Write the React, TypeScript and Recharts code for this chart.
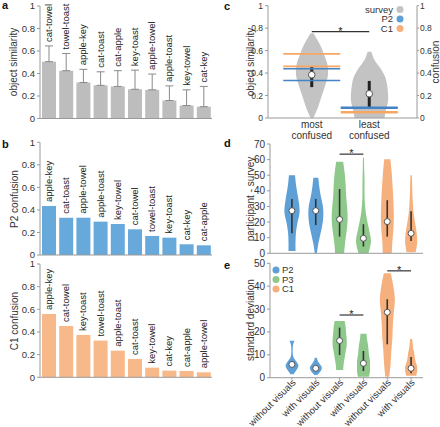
import React from 'react';
import { ComposedChart, Bar, Scatter, ErrorBar, XAxis, YAxis, ReferenceLine } from 'recharts';

// panel a: survey object similarity (mean, upper sd)
const simPairs = ['cat-towel', 'towel-toast', 'apple-key', 'cat-toast', 'cat-apple', 'key-toast', 'apple-towel', 'apple-toast', 'key-towel', 'cat-key'];
const simMean = [0.505, 0.425, 0.32, 0.295, 0.285, 0.26, 0.255, 0.16, 0.115, 0.105];
const simSd = [0.14, 0.153, 0.117, 0.12, 0.14, 0.17, 0.14, 0.13, 0.14, 0.18];

// panel b: confusion per pair
const p2Pairs = ['apple-key', 'cat-toast', 'apple-towel', 'apple-toast', 'key-towel', 'cat-towel', 'towel-toast', 'key-toast', 'cat-key', 'cat-apple'];
const p2Conf = [0.435, 0.331, 0.331, 0.296, 0.275, 0.228, 0.169, 0.154, 0.095, 0.086];
const c1Pairs = ['apple-key', 'cat-towel', 'key-toast', 'towel-toast', 'apple-toast', 'cat-toast', 'key-towel', 'cat-key', 'cat-apple', 'apple-towel'];
const c1Conf = [0.559, 0.453, 0.374, 0.324, 0.235, 0.162, 0.085, 0.059, 0.056, 0.044];

// panel c: survey violins + participant confusion lines
const cGroups = ['most confused', 'least confused'];
const cLo = [0, 0];
const cHi = [0.755, 0.59];
const cDensity = [
  [0.07, 0.32, 0.51, 0.7, 0.86, 0.84, 0.65, 0.41, 0.08],
  [0.81, 0.89, 1, 1, 0.95, 0.84, 0.59, 0.27, 0.1],
];
const cMedian = [0.385, 0.216];
const cQ1 = [0.275, 0.095];
const cQ3 = [0.46, 0.33];
const cP2 = [[0.438, 0.334], [0.088, 0.096]];
const cC1 = [[0.571, 0.46], [0.047, 0.055]];
const cSigLevel = 0.77;

// panels d/e: with vs without visuals
const visKeys = ['p2-without', 'p2-with', 'p3-without', 'p3-with', 'c1-without', 'c1-with'];
const visLabels = ['without visuals', 'with visuals', 'without visuals', 'with visuals', 'without visuals', 'with visuals'];
const visGroups = ['P2', 'P2', 'P3', 'P3', 'C1', 'C1'];

const dLo = [1.5, 0, 0, 0, 0, 0.6];
const dHi = [50, 48.4, 58.6, 61.2, 60.3, 50];
const dDensity = [
  [0.44, 0.44, 0.5, 0.69, 0.94, 0.88, 0.69, 0.5, 0.38],
  [0.13, 0.31, 0.56, 0.81, 0.94, 0.88, 0.63, 0.44, 0.31],
  [0.56, 0.69, 0.88, 1, 0.94, 0.81, 0.75, 0.63, 0.44],
  [0.63, 0.94, 0.69, 0.38, 0.19, 0.13, 0.13, 0.09, 0.06],
  [0.56, 0.63, 0.75, 0.81, 0.78, 0.72, 0.63, 0.53, 0.38],
  [0.56, 0.75, 0.69, 0.5, 0.31, 0.22, 0.16, 0.13, 0.09],
];
const dMedian = [27.3, 27.3, 21.7, 9.6, 20.3, 12.8];
const dQ1 = [12.8, 18.1, 10.7, 4.3, 10.7, 7.9];
const dQ3 = [34.8, 34.8, 41.2, 18.6, 34, 27];
const dSigPairs = [[2, 3]];
const dSigLevel = [63.5];

const eLo = [1.5, 1.2, 3.4, 0.4, 0.4, 0.9];
const eHi = [16.2, 8.7, 24.8, 19.2, 45.6, 16.9];
const eDensity = [
  [0.19, 0.56, 0.81, 0.56, 0.19, 0.09, 0.09, 0.13, 0.31],
  [0.19, 0.44, 0.63, 0.75, 0.69, 0.5, 0.31, 0.19, 0.13],
  [0.44, 0.5, 0.63, 0.75, 0.88, 0.88, 0.81, 0.75, 0.63],
  [0.69, 0.81, 0.81, 0.81, 0.69, 0.63, 0.56, 0.44, 0.38],
  [0.25, 0.41, 0.5, 0.63, 0.69, 0.81, 0.94, 0.75, 0.44],
  [0.63, 0.75, 0.75, 0.56, 0.44, 0.38, 0.25, 0.19, 0.13],
];
const eMedian = [5.8, 4.1, 16.2, 6.3, 28.6, 4.1];
const eQ1 = [4.8, 3.5, 9.9, 2.9, 14.6, 1.9];
const eQ3 = [7, 5, 21.9, 11.7, 34.3, 9];
const eSigPairs = [[2, 3], [4, 5]];
const eSigLevel = [27.4, 46.7];

const FONT = '"Liberation Sans", Arial, Helvetica, sans-serif';
const AXIS = '#9a9a9a';
const TXT = '#333';
const colors: Record<string, string> = {
  survey: '#c3c3c3',
  P2: '#5e9fd6',
  P3: '#8ec98b',
  C1: '#f6b07d',
};
const barGray = '#bdbdbd';
const barBlue = '#68a9db';
const barOrange = '#f7b98a';
const lineBlue = '#4583c4';
const lineOrange = '#f5a766';

const unitTicks = [0, 0.2, 0.4, 0.6, 0.8, 1];

// catmull-rom through points -> cubic bezier segments
function smooth(pts: number[][]) {
  let d = '';
  for (let i = 0; i < pts.length - 1; i++) {
    const p0 = pts[Math.max(i - 1, 0)];
    const p1 = pts[i];
    const p2 = pts[i + 1];
    const p3 = pts[Math.min(i + 2, pts.length - 1)];
    const c1 = [p1[0] + (p2[0] - p0[0]) / 6, p1[1] + (p2[1] - p0[1]) / 6];
    const c2 = [p2[0] - (p3[0] - p1[0]) / 6, p2[1] - (p3[1] - p1[1]) / 6];
    d += ` C${c1[0]},${c1[1]} ${c2[0]},${c2[1]} ${p2[0]},${p2[1]}`;
  }
  return d;
}

// range bar [lo, hi] drawn as a violin, density profile from lo to hi
const violinShape = (density: number[][], fills: string[], halfWidth: number) => (props: any) => {
  const { x, y, width, height, index } = props;
  const dens = density[index];
  if (!dens) return null;
  const cx = x + width / 2;
  const bottom = y + height;
  const n = dens.length;
  const right = dens.map((w, i) => [cx + w * halfWidth, bottom - (height * i) / (n - 1)]);
  const left = dens.map((w, i) => [cx - w * halfWidth, bottom - (height * i) / (n - 1)]).reverse();
  const d = `M${right[0][0]},${right[0][1]}` + smooth(right) + ` L${left[0][0]},${left[0][1]}` + smooth(left) + ' Z';
  return <path d={d} fill={fills[index]} stroke="none" />;
};

const medianDot = (r: number) => (props: any) => (
  <circle cx={props.cx} cy={props.cy} r={r} fill="#fff" stroke="#555" strokeWidth={1} />
);

const hLine = (color: string, half: number) => (props: any) => (
  <line x1={props.cx - half} x2={props.cx + half} y1={props.cy} y2={props.cy} stroke={color} strokeWidth={1.6} />
);

const pairLabel = (props: any) => {
  const { cx, cy, payload } = props;
  const yy = cy - 4;
  return (
    <text x={cx} y={yy} dy="0.35em" transform={`rotate(-90 ${cx} ${yy})`} textAnchor="start" fontSize={9.5} fill="#222">
      {payload.name}
    </text>
  );
};

const star = (props: any) => {
  const vb = props.viewBox || {};
  const x = vb.x1 !== undefined ? (vb.x1 + vb.x2) / 2 : vb.x + (vb.width || 0) / 2;
  const y = vb.y1 !== undefined ? vb.y1 : vb.y;
  return (
    <text x={x} y={y + 3} textAnchor="middle" fontSize={11} fill="#222">*</text>
  );
};

const groupTick = (props: any) => {
  const { x, y, payload } = props;
  const [l1, l2] = String(payload.value).split(' ');
  return (
    <g>
      <text x={x} y={y + 10} textAnchor="middle" fontSize={10} fill={TXT}>{l1}</text>
      <text x={x} y={y + 21} textAnchor="middle" fontSize={10} fill={TXT}>{l2}</text>
    </g>
  );
};

const visTick = (props: any) => {
  const { x, y, payload } = props;
  const label = visLabels[visKeys.indexOf(payload.value)];
  const tx = x + 2;
  const ty = y - 1;
  return (
    <text x={tx} y={ty} dy="0.35em" transform={`rotate(-45 ${tx} ${ty})`} textAnchor="end" fontSize={9.5} fill={TXT}>
      {label}
    </text>
  );
};

const tickStyle = { fontSize: 9.5, fill: TXT };
const smallTick = { fontSize: 8.5, fill: TXT };

function PairBars({ names, values, fill, height, margin }: any) {
  const data = names.map((name: string, i: number) => ({ name, value: values[i] }));
  return (
    <ComposedChart width={220} height={height} data={data} margin={margin}>
      <XAxis dataKey="name" type="category" height={1} tick={false} tickLine={false} axisLine={{ stroke: AXIS }} interval={0} />
      <YAxis domain={[0, 1]} ticks={unitTicks} interval={0} width={40} tick={tickStyle} tickSize={3} tickMargin={2}
        axisLine={{ stroke: AXIS }} tickLine={{ stroke: AXIS }} />
      <Bar dataKey="value" fill={fill} barSize={14} isAnimationActive={false} />
      <Scatter dataKey="value" shape={pairLabel} isAnimationActive={false} />
    </ComposedChart>
  );
}

function SimilarityBars() {
  const data = simPairs.map((name, i) => ({ name, value: simMean[i], err: [0, simSd[i]], top: simMean[i] + simSd[i] }));
  return (
    <ComposedChart width={220} height={128} data={data} margin={{ top: 6, right: 8, bottom: 8.5, left: 0 }}>
      <XAxis dataKey="name" type="category" height={1} tick={false} tickLine={false} axisLine={{ stroke: AXIS }} interval={0} />
      <YAxis domain={[0, 1]} ticks={unitTicks} interval={0} width={40} tick={tickStyle} tickSize={3} tickMargin={2}
        axisLine={{ stroke: AXIS }} tickLine={{ stroke: AXIS }} />
      <Bar dataKey="value" fill={barGray} barSize={14} isAnimationActive={false}>
        <ErrorBar dataKey="err" width={4} stroke="#8a8a8a" strokeWidth={1} direction="y" />
      </Bar>
      <Scatter dataKey="top" shape={pairLabel} isAnimationActive={false} />
    </ComposedChart>
  );
}

function ConfusedViolins() {
  const data = cGroups.map((name, i) => ({
    name,
    range: [cLo[i], cHi[i]],
    med: cMedian[i],
    iqr: [cMedian[i] - cQ1[i], cQ3[i] - cMedian[i]],
    p2a: cP2[i][0],
    p2b: cP2[i][1],
    c1a: cC1[i][0],
    c1b: cC1[i][1],
  }));
  return (
    <ComposedChart width={220} height={145} data={data} margin={{ top: 5.7, right: 0, bottom: 0, left: 0 }}>
      <XAxis dataKey="name" type="category" height={27} padding={{ left: 15, right: 19 }} tick={groupTick}
        tickLine={false} tickSize={0} tickMargin={0} axisLine={{ stroke: AXIS }} interval={0} />
      <YAxis domain={[0, 1]} ticks={unitTicks} interval={0} width={48} tick={smallTick} tickSize={3} tickMargin={2}
        axisLine={{ stroke: AXIS }} tickLine={{ stroke: AXIS }} />
      <YAxis yAxisId="r" orientation="right" domain={[0, 1]} ticks={unitTicks} interval={0} width={23} tick={smallTick}
        tickSize={2} tickMargin={1} axisLine={{ stroke: AXIS }} tickLine={{ stroke: AXIS }} />
      <Bar dataKey="range" barSize={40} shape={violinShape(cDensity, cGroups.map(() => colors.survey), 18.5)} isAnimationActive={false} />
      {/* participant confusion belongs to the right-hand axis */}
      <Scatter yAxisId="r" dataKey="c1a" shape={hLine(lineOrange, 28.5)} isAnimationActive={false} />
      <Scatter yAxisId="r" dataKey="c1b" shape={hLine(lineOrange, 28.5)} isAnimationActive={false} />
      <Scatter yAxisId="r" dataKey="p2a" shape={hLine(lineBlue, 28.5)} isAnimationActive={false} />
      <Scatter yAxisId="r" dataKey="p2b" shape={hLine(lineBlue, 28.5)} isAnimationActive={false} />
      <Scatter dataKey="med" shape={medianDot(3.3)} isAnimationActive={false}>
        <ErrorBar dataKey="iqr" width={0} stroke="#222" strokeWidth={3} direction="y" />
      </Scatter>
      <ReferenceLine segment={[{ x: cGroups[0], y: cSigLevel }, { x: cGroups[1], y: cSigLevel }]} stroke="#333"
        strokeWidth={1.2} ifOverflow="visible" label={star} />
    </ComposedChart>
  );
}

function VisualViolins({ lo, hi, density, median, q1, q3, sigPairs, sigLevel, domain, ticks, height, margin, xHeight, showLabels }: any) {
  const data = visKeys.map((key, i) => ({
    key,
    range: [lo[i], hi[i]],
    med: median[i],
    iqr: [median[i] - q1[i], q3[i] - median[i]],
  }));
  return (
    <ComposedChart width={220} height={height} data={data} margin={margin}>
      <XAxis dataKey="key" type="category" height={xHeight} padding={{ left: 10, right: 0 }}
        tick={showLabels ? visTick : false} tickSize={2} tickMargin={2} axisLine={{ stroke: AXIS }} tickLine={{ stroke: AXIS }} interval={0} />
      <YAxis domain={domain} ticks={ticks} interval={0} width={50} tick={{ fontSize: 10, fill: TXT }} tickSize={3} tickMargin={2}
        axisLine={{ stroke: AXIS }} tickLine={{ stroke: AXIS }} />
      <Bar dataKey="range" barSize={16} shape={violinShape(density, visGroups.map((g) => colors[g]), 8)} isAnimationActive={false} />
      <Scatter dataKey="med" shape={medianDot(3)} isAnimationActive={false}>
        <ErrorBar dataKey="iqr" width={0} stroke="#333" strokeWidth={1.6} direction="y" />
      </Scatter>
      {sigPairs.map((p: number[], i: number) => (
        <ReferenceLine key={i} segment={[{ x: visKeys[p[0]], y: sigLevel[i] }, { x: visKeys[p[1]], y: sigLevel[i] }]}
          stroke="#333" strokeWidth={1.2} ifOverflow="visible" label={star} />
      ))}
    </ComposedChart>
  );
}

const cLegend = ['survey', 'P2', 'C1'];
const eLegend = ['P2', 'P3', 'C1'];

// axis titles: [text, centre x, centre y]
const axisTitles: [string, number, number][] = [
  ['object similarity', 13, 62],
  ['P2 confusion', 14, 199],
  ['C1 confusion', 14, 321],
  ['object similarity', 250.5, 62],
  ['confusion', 435.5, 62],
  ['participant - survey', 250.5, 199],
  ['standard deviation', 250.5, 320],
];

function Overlay() {
  const letter = { fontSize: 11, fontWeight: 700, fill: '#111' } as const;
  return (
    <svg width={440} height={427} style={{ position: 'absolute', left: 0, top: 0, pointerEvents: 'none' }}>
      <text x={2} y={9} {...letter}>a</text>
      <text x={2} y={148} {...letter}>b</text>
      <text x={224} y={10} {...letter}>c</text>
      <text x={224} y={147} {...letter}>d</text>
      <text x={224} y={269} {...letter}>e</text>
      {axisTitles.map(([t, x, y], i) => (
        <text key={i} x={x} y={y} transform={`rotate(-90 ${x} ${y})`} textAnchor="middle" dominantBaseline="central"
          fontSize={10} fill={TXT}>{t}</text>
      ))}
      {cLegend.map((name, i) => (
        <g key={name}>
          <text x={393} y={9.5 + i * 9.5 + 3.3} textAnchor="end" fontSize={9.5} fill={TXT}>{name}</text>
          <circle cx={400} cy={9.5 + i * 9.5} r={3.5} fill={colors[name]} />
        </g>
      ))}
      {eLegend.map((name, i) => (
        <g key={name}>
          <circle cx={276} cy={270 + i * 9.5} r={3.5} fill={colors[name]} />
          <text x={282} y={270 + i * 9.5 + 3.3} fontSize={9.5} fill={TXT}>{name}</text>
        </g>
      ))}
    </svg>
  );
}

export default function App() {
  return (
    <div style={{ position: 'absolute', left: 0, top: 0, width: 440, height: 427, background: '#fff', fontFamily: FONT, overflow: 'hidden' }}>
      <div style={{ position: 'absolute', left: 0, top: 0 }}>
        <SimilarityBars />
      </div>
      <div style={{ position: 'absolute', left: 0, top: 137 }}>
        <PairBars names={p2Pairs} values={p2Conf} fill={barBlue} height={125}
          margin={{ top: 5.3, right: 8, bottom: 6, left: 0 }} />
      </div>
      <div style={{ position: 'absolute', left: 0, top: 259 }}>
        <PairBars names={c1Pairs} values={c1Conf} fill={barOrange} height={125}
          margin={{ top: 5, right: 8, bottom: 5.7, left: 0 }} />
      </div>
      <div style={{ position: 'absolute', left: 220, top: 0 }}>
        <ConfusedViolins />
      </div>
      <div style={{ position: 'absolute', left: 220, top: 137 }}>
        <VisualViolins lo={dLo} hi={dHi} density={dDensity} median={dMedian} q1={dQ1} q3={dQ3}
          sigPairs={dSigPairs} sigLevel={dSigLevel} domain={[0, 70]} ticks={[0, 10, 20, 30, 40, 50, 60, 70]}
          height={124} margin={{ top: 7, right: 17, bottom: 4.7, left: 0 }} xHeight={3} showLabels={false} />
      </div>
      <div style={{ position: 'absolute', left: 220, top: 257 }}>
        <VisualViolins lo={eLo} hi={eHi} density={eDensity} median={eMedian} q1={eQ1} q3={eQ3}
          sigPairs={eSigPairs} sigLevel={eSigLevel} domain={[0, 50]} ticks={[0, 10, 20, 30, 40, 50]}
          height={170} margin={{ top: 6.3, right: 17, bottom: 0, left: 0 }} xHeight={49.3} showLabels />
      </div>
      <Overlay />
    </div>
  );
}
